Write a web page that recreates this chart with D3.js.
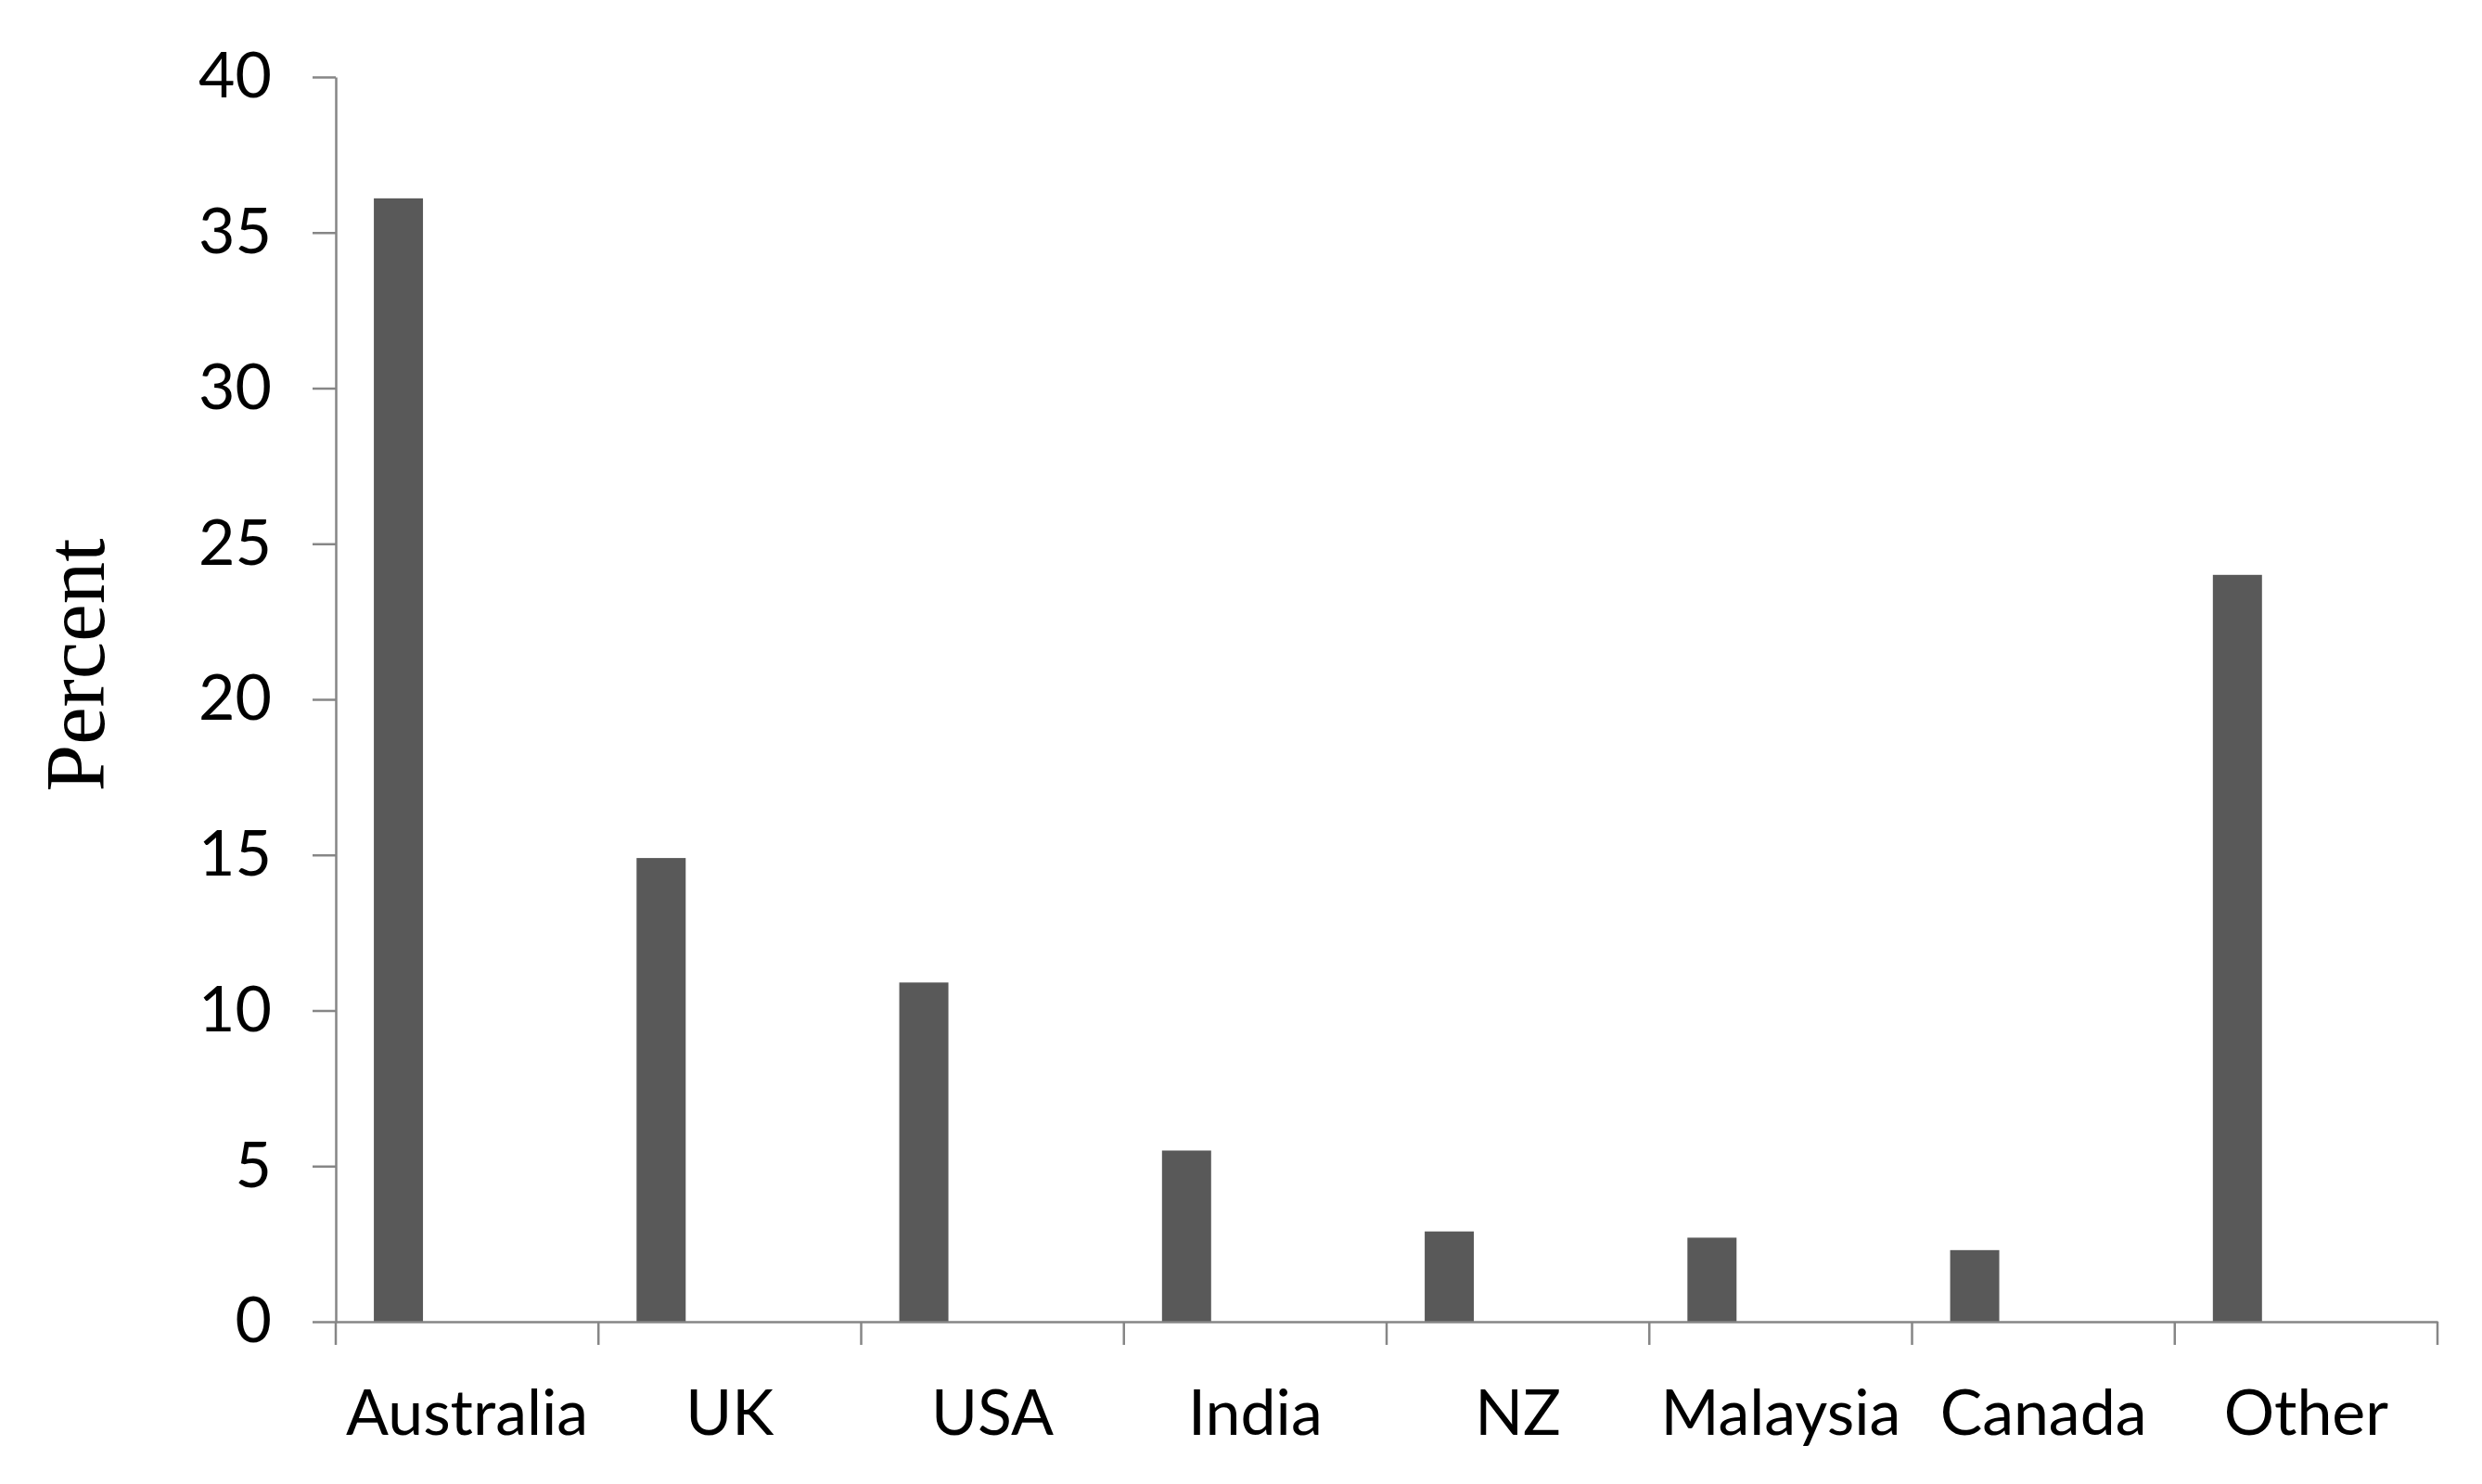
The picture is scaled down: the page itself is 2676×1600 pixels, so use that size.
<!DOCTYPE html>
<html>
<head>
<meta charset="utf-8">
<script src="https://cdn.jsdelivr.net/npm/d3@7"></script>
<style>
  body { margin: 0; background: #fff; }
  svg { display: block; }
</style>
</head>
<body>
<svg></svg>
<script>
// data
let countries = ["Australia", "UK", "USA", "India", "NZ", "Malaysia", "Canada", "Other"];
let percents = [36.1, 14.9, 10.9, 5.5, 2.9, 2.7, 2.3, 24.0];
let yTicks = [0, 5, 10, 15, 20, 25, 30, 35, 40];

let width = 2676;
let height = 1600;

let plotLeft = 362;
let plotRight = 2628;
let plotTop = 83;
let plotBottom = 1425;

let axisColor = "#868686";
let barColor = "#595959";
let tickFont = "Lato, 'Open Sans', sans-serif";

let svg = d3.select("svg")
    .attr("width", width)
    .attr("height", height);

svg.append("rect")
    .attr("width", width)
    .attr("height", height)
    .attr("fill", "#fff");

let xScale = d3.scaleBand()
    .domain(countries)
    .range([plotLeft, plotRight])
    .padding(0);

let yScale = d3.scaleLinear()
    .domain([0, 40])
    .range([plotBottom, plotTop]);

let bw = xScale.bandwidth();

// bars sit in the left part of each category (excel style)
svg.selectAll("rect.bar")
    .data(countries)
    .enter()
    .append("rect")
    .attr("class", "bar")
    .attr("x", (d) => xScale(d) + bw * 0.145)
    .attr("width", bw * 0.187)
    .attr("y", (d, i) => yScale(percents[i]))
    .attr("height", (d, i) => plotBottom - yScale(percents[i]))
    .attr("fill", barColor);

// y axis
let yAxis = d3.axisLeft(yScale)
    .tickValues(yTicks)
    .tickSize(25)
    .tickPadding(44)
    .tickSizeOuter(0);

let yg = svg.append("g")
    .attr("transform", "translate(" + plotLeft + ",0)")
    .call(yAxis);

// x axis: labels only, boundary ticks drawn below
let xAxis = d3.axisBottom(xScale)
    .tickSize(0)
    .tickSizeOuter(0)
    .tickPadding(74);

let xg = svg.append("g")
    .attr("transform", "translate(0," + plotBottom + ")")
    .call(xAxis);

let bounds = countries.map((d) => xScale(d)).concat([plotRight]);
xg.selectAll("line.bound")
    .data(bounds)
    .enter()
    .append("line")
    .attr("class", "bound")
    .attr("x1", (d) => d)
    .attr("x2", (d) => d)
    .attr("y1", 0)
    .attr("y2", 25);

[yg, xg].forEach((g) => {
    g.selectAll("path.domain").attr("stroke", axisColor).attr("stroke-width", 2.5);
    g.selectAll("line").attr("stroke", axisColor).attr("stroke-width", 2.5);
    g.selectAll("text")
        .attr("fill", "#000")
        .style("font-family", tickFont)
        .style("font-size", "68px");
});

// y title
svg.append("text")
    .attr("transform", "translate(112,717) rotate(-90)")
    .attr("text-anchor", "middle")
    .style("font-family", "'Liberation Serif', 'DejaVu Serif', serif")
    .style("font-size", "91px")
    .attr("fill", "#000")
    .text("Percent");
</script>
</body>
</html>
